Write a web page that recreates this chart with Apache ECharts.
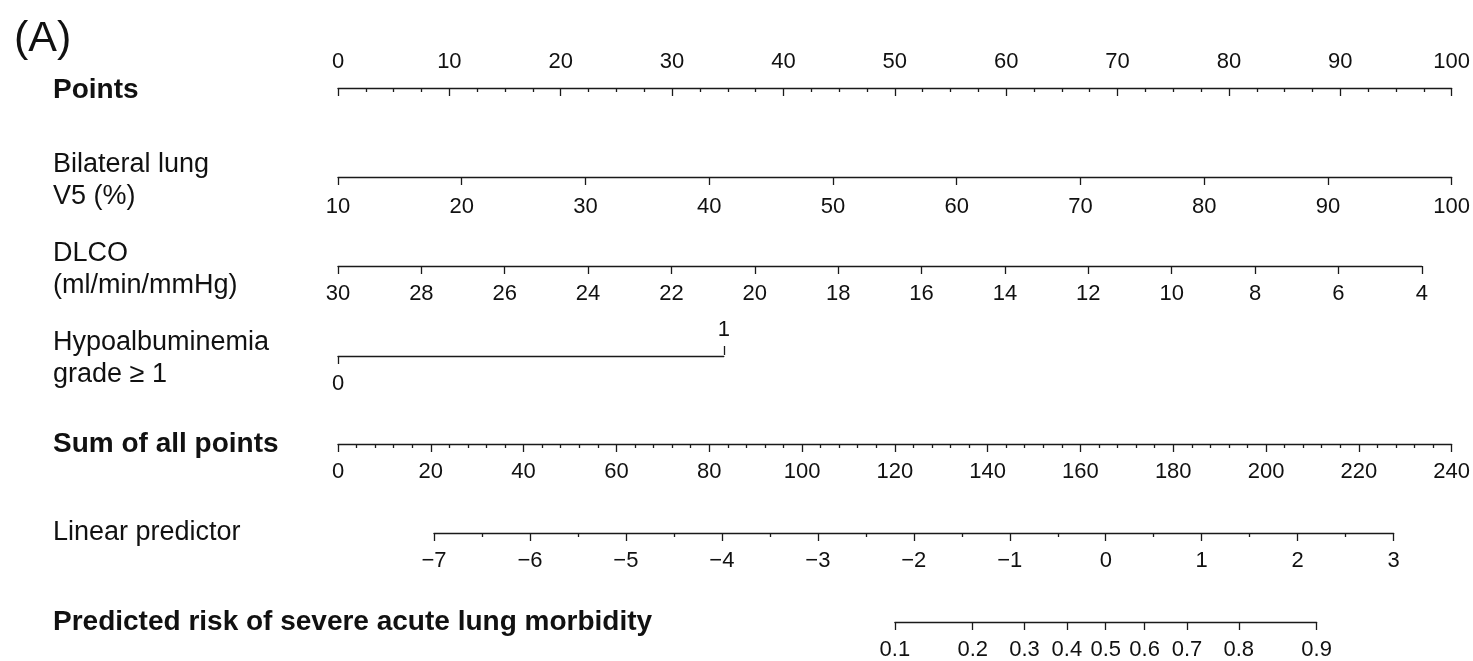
<!DOCTYPE html>
<html>
<head>
<meta charset="utf-8">
<title>Nomogram</title>
<script src="https://cdn.jsdelivr.net/npm/echarts@6/dist/echarts.min.js"></script>
<style>
  html, body { margin: 0; padding: 0; background: #fff; }
  #chart { width: 1473px; height: 661px; }
</style>
</head>
<body>
<div id="chart"></div>
<script>
// ---- data ----
const rowNames = [
    'Points',
    'Bilateral lung\nV5 (%)',
    'DLCO\n(ml/min/mmHg)',
    'Hypoalbuminemia\ngrade \u2265 1',
    'Sum of all points',
    'Linear predictor',
    'Predicted risk of severe acute lung morbidity'
];
const boldRows = [0, 4, 6];

const pointsTicks = [0, 10, 20, 30, 40, 50, 60, 70, 80, 90, 100];
const v5Ticks = [10, 20, 30, 40, 50, 60, 70, 80, 90, 100];
const dlcoTicks = [30, 28, 26, 24, 22, 20, 18, 16, 14, 12, 10, 8, 6, 4];
const hypoTicks = [0, 1];
const sumTicks = [0, 20, 40, 60, 80, 100, 120, 140, 160, 180, 200, 220, 240];
const lpTicks = [-7, -6, -5, -4, -3, -2, -1, 0, 1, 2, 3];
const riskTicks = [0.1, 0.2, 0.3, 0.4, 0.5, 0.6, 0.7, 0.8, 0.9];

// model: points reached at the far end of each predictor scale
const v5MaxPoints = 100;      // V5 = 100 %
const dlcoMaxPoints = 97.2;   // DLCO = 4
const hypoPoints = 34.6;      // grade >= 1
// linear predictor = lpIntercept + lpSlope * total points
const lpIntercept = -8.0;
const lpSlope = 0.04841;

// ---- layout ----
const X0 = 338, X1 = 1453;           // pixel span of 0..100 points
const lineY = [88, 177, 266, 356, 444, 533, 622];
const nameY = [90, 181, 270, 359, 444, 533, 622];
const FONT = '"Liberation Sans", Arial, Helvetica, sans-serif';
const INK = '#1a1a1a';
const TICK_FONT = 22;

const logit = p => Math.log(p / (1 - p));
const ptsX = p => X0 + p * (X1 - X0) / 100;
const totalX = t => X0 + t * (X1 - X0) / sumTicks[sumTicks.length - 1];
const lpX = lp => totalX((lp - lpIntercept) / lpSlope);
const minus = v => String(v).replace('-', '\u2212');

const grids = [];
const xAxes = [];
const yAxes = [];

function addScale(x0, x1, y, axes) {
    const gi = grids.length;
    grids.push({ left: Math.min(x0, x1), width: Math.abs(x1 - x0), top: y - 1, height: 1 });
    yAxes.push({ gridIndex: gi, show: false, min: 0, max: 1 });
    axes.forEach(a => {
        xAxes.push(Object.assign({
            gridIndex: gi,
            type: 'value',
            position: 'bottom',
            splitLine: { show: false }
        }, a, {
            axisLine: Object.assign({ show: true, onZero: false, lineStyle: { color: INK, width: 1.3 } }, a.axisLine || {}),
            axisTick: Object.assign({ show: true, length: 8, lineStyle: { color: INK, width: 1.3 } }, a.axisTick || {}),
            axisLabel: Object.assign({
                color: '#111', fontSize: TICK_FONT, fontFamily: FONT, margin: 16,
                showMinLabel: true, showMaxLabel: true, hideOverlap: false
            }, a.axisLabel || {})
        }));
    });
}

// Points
addScale(ptsX(0), ptsX(100), lineY[0] + 1, [{
    position: 'top', min: pointsTicks[0], max: pointsTicks[pointsTicks.length - 1], interval: 10,
    axisTick: { inside: true },
    minorTick: { show: true, splitNumber: 4, length: 4, lineStyle: { color: INK, width: 1.3 } },
    axisLabel: { margin: 15 }
}]);
// Bilateral lung V5
addScale(ptsX(0), ptsX(v5MaxPoints), lineY[1], [{
    min: v5Ticks[0], max: v5Ticks[v5Ticks.length - 1], interval: 10,
    axisLabel: { margin: 19 }
}]);
// DLCO (reversed)
addScale(ptsX(0), ptsX(dlcoMaxPoints), lineY[2], [{
    min: dlcoTicks[dlcoTicks.length - 1], max: dlcoTicks[0], interval: 2, inverse: true,
    axisLabel: { margin: 17 }
}]);
// Hypoalbuminemia: "1" above, "0" below
addScale(ptsX(0), ptsX(hypoPoints), lineY[3], [{
    position: 'top', min: hypoTicks[0], max: hypoTicks[1],
    axisLine: { show: false },
    axisTick: { customValues: [hypoTicks[1]], length: 9 },
    axisLabel: { customValues: [hypoTicks[1]], margin: 14 }
}, {
    position: 'bottom', min: hypoTicks[0], max: hypoTicks[1],
    axisTick: { customValues: [hypoTicks[0]] },
    axisLabel: { customValues: [hypoTicks[0]], margin: 17 }
}]);
// Sum of all points
addScale(totalX(sumTicks[0]), totalX(sumTicks[sumTicks.length - 1]), lineY[4], [{
    min: sumTicks[0], max: sumTicks[sumTicks.length - 1], interval: 20,
    minorTick: { show: true, splitNumber: 5, length: 4, lineStyle: { color: INK, width: 1.3 } },
    axisLabel: { margin: 17 }
}]);
// Linear predictor
addScale(lpX(lpTicks[0]), lpX(lpTicks[lpTicks.length - 1]), lineY[5], [{
    min: lpTicks[0], max: lpTicks[lpTicks.length - 1], interval: 1,
    minorTick: { show: true, splitNumber: 2, length: 4, lineStyle: { color: INK, width: 1.3 } },
    axisLabel: { margin: 17, formatter: v => minus(v) }
}]);
// Predicted risk (logit scale)
const riskLogits = riskTicks.map(logit);
addScale(lpX(riskLogits[0]), lpX(riskLogits[riskLogits.length - 1]), lineY[6], [{
    min: riskLogits[0], max: riskLogits[riskLogits.length - 1],
    axisTick: { customValues: riskLogits },
    axisLabel: { customValues: riskLogits, margin: 17, formatter: v => (1 / (1 + Math.exp(-v))).toFixed(1) }
}]);

const graphics = [{
    type: 'text', style: { x: 14, y: 39, text: '(A)', fontSize: 43, fontFamily: FONT, fill: '#111', verticalAlign: 'middle' }
}];
rowNames.forEach((name, i) => {
    const bold = boldRows.includes(i);
    graphics.push({
        type: 'text',
        style: {
            x: 53, y: nameY[i], text: name, fontSize: bold ? 28 : 27, lineHeight: 32,
            fontWeight: bold ? 'bold' : 'normal',
            fontFamily: FONT, fill: '#111', verticalAlign: 'middle', align: 'left'
        }
    });
});

const chart = echarts.init(document.getElementById('chart'), null, { renderer: 'canvas' });
chart.setOption({
    backgroundColor: '#fff',
    animation: false,
    grid: grids,
    xAxis: xAxes,
    yAxis: yAxes,
    graphic: graphics,
    series: []
});
</script>
</body>
</html>
